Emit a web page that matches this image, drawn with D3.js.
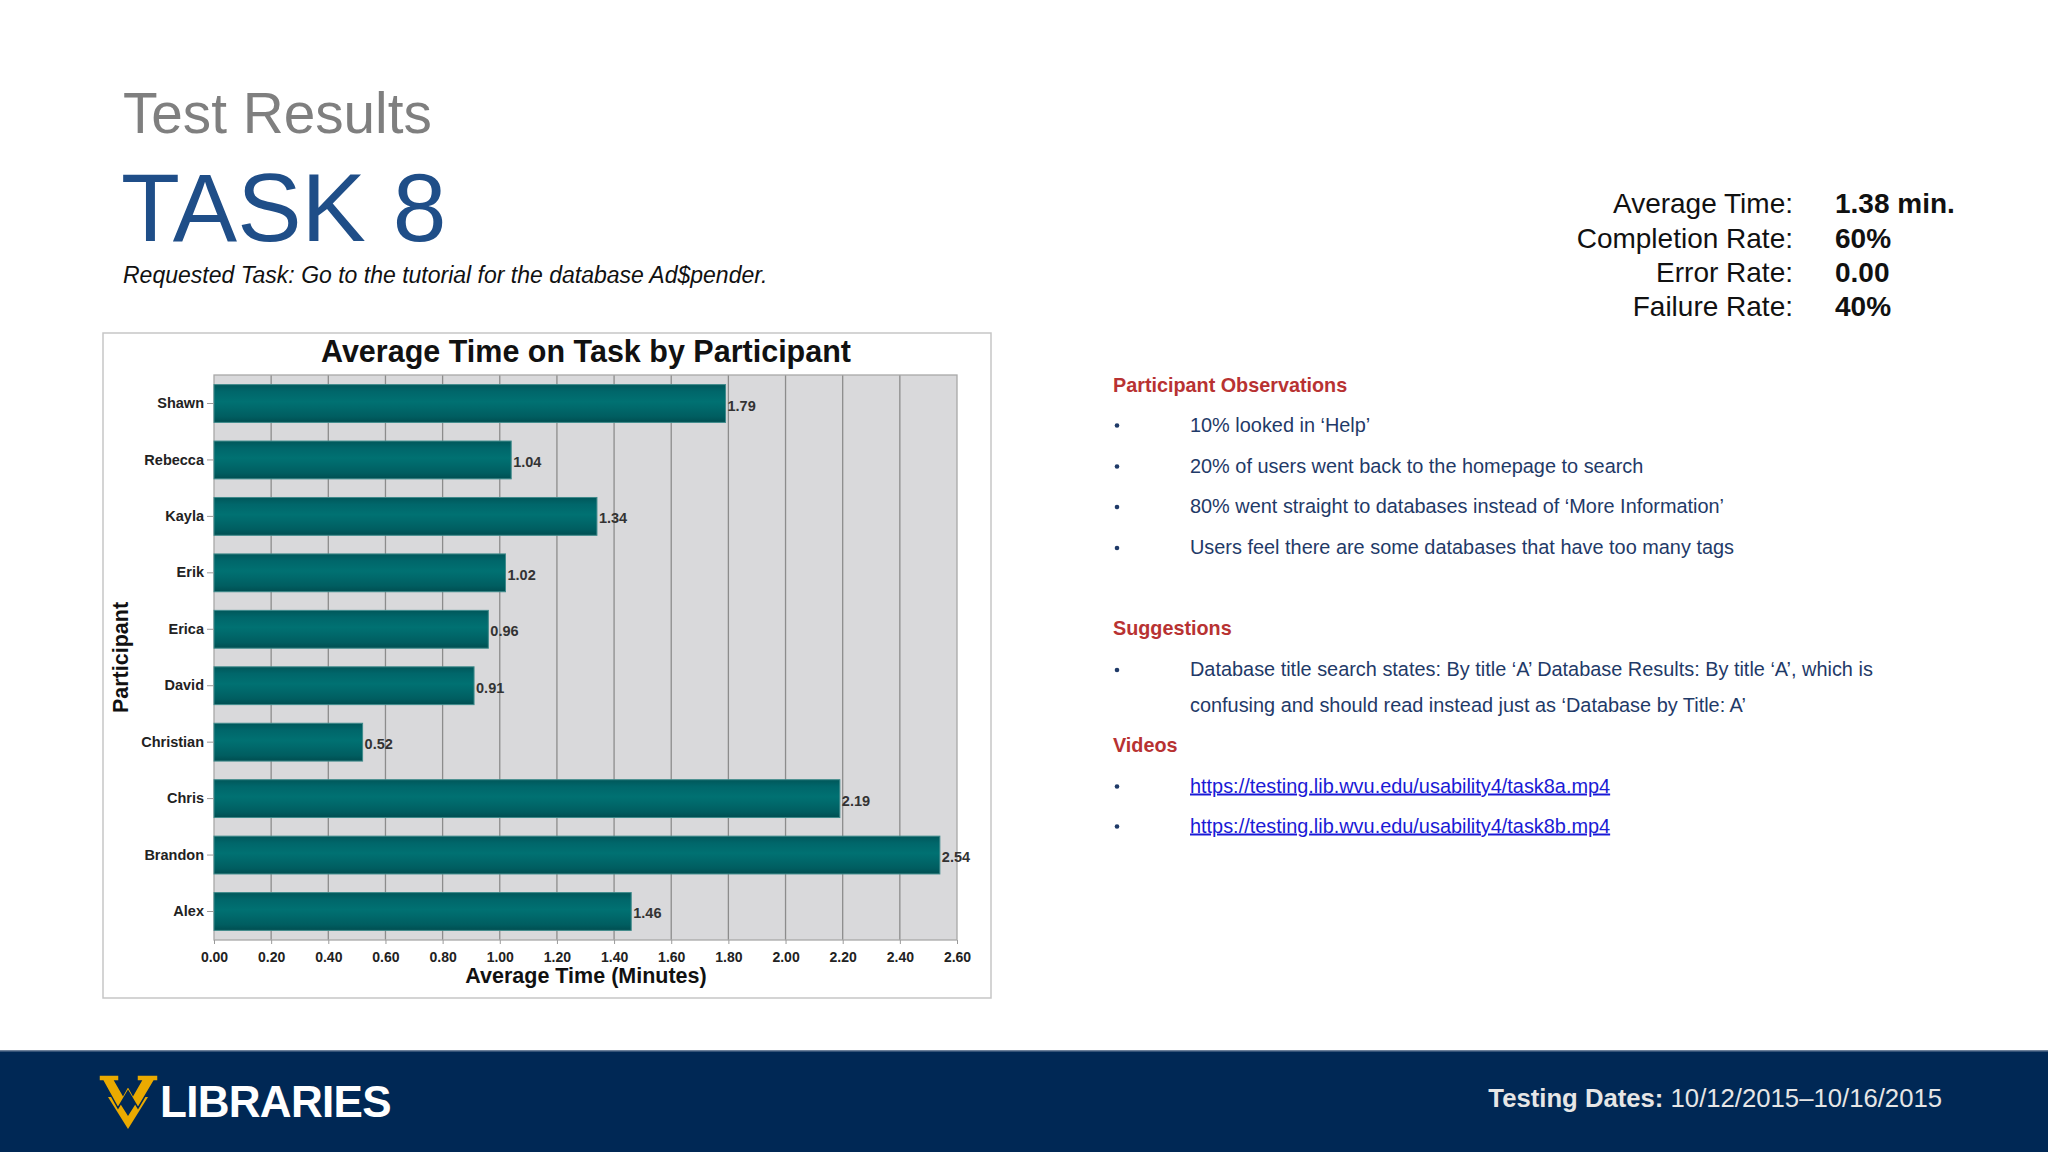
<!DOCTYPE html>
<html>
<head>
<meta charset="utf-8">
<script src="https://cdn.jsdelivr.net/npm/d3@7/dist/d3.min.js"></script>
<style>
  html, body { margin: 0; padding: 0; background: #ffffff; }
  svg { display: block; }
  text { font-family: "Liberation Sans", Arial, "DejaVu Sans", sans-serif; }
</style>
</head>
<body>
<svg id="slide" width="2048" height="1152"></svg>
<script>
// ---------------- DATA ----------------
const participants = ["Shawn", "Rebecca", "Kayla", "Erik", "Erica", "David", "Christian", "Chris", "Brandon", "Alex"];
const avgTimes = [1.79, 1.04, 1.34, 1.02, 0.96, 0.91, 0.52, 2.19, 2.54, 1.46];
const xTicks = [0, 0.2, 0.4, 0.6, 0.8, 1.0, 1.2, 1.4, 1.6, 1.8, 2.0, 2.2, 2.4, 2.6];
const xDomain = [0, 2.6];

const statLabels = ["Average Time:", "Completion Rate:", "Error Rate:", "Failure Rate:"];
const statValues = ["1.38 min.", "60%", "0.00", "40%"];

const observations = [
  "10% looked in \u2018Help\u2019",
  "20% of users went back to the homepage to search",
  "80% went straight to databases instead of \u2018More Information\u2019",
  "Users feel there are some databases that have too many tags"
];
const suggestions = [
  "Database title search states: By title \u2018A\u2019 Database Results: By title \u2018A\u2019, which is",
  "confusing and should read instead just as \u2018Database by Title: A\u2019"
];
const videos = [
  "https://testing.lib.wvu.edu/usability4/task8a.mp4",
  "https://testing.lib.wvu.edu/usability4/task8b.mp4"
];

// ---------------- SLIDE ----------------
const svg = d3.select("#slide");
svg.append("rect").attr("width", 2048).attr("height", 1152).attr("fill", "#ffffff");

// Header
svg.append("text").attr("x", 123).attr("y", 133)
  .attr("font-size", 56.7).attr("fill", "#7f7f7f").text("Test Results");
svg.append("text").attr("x", 121).attr("y", 241)
  .attr("font-size", 96.5).attr("fill", "#1f4e88").text("TASK 8");
svg.append("text").attr("x", 123).attr("y", 283)
  .attr("font-size", 23).attr("font-style", "italic").attr("fill", "#111")
  .text("Requested Task: Go to the tutorial for the database Ad$pender.");

// Stats
const statY = [213, 247.5, 281.5, 315.5];
statLabels.forEach((s, i) => {
  svg.append("text").attr("x", 1793).attr("y", statY[i]).attr("text-anchor", "end")
    .attr("font-size", 28).attr("fill", "#111").text(s);
  svg.append("text").attr("x", 1835).attr("y", statY[i])
    .attr("font-size", 28).attr("font-weight", "bold").attr("fill", "#111").text(statValues[i]);
});

// Right column
const red = "#b83232", navyText = "#1f3a68", linkBlue = "#1a1ad6";
function heading(t, y) {
  svg.append("text").attr("x", 1113).attr("y", y).attr("font-size", 19.8)
    .attr("font-weight", "bold").attr("fill", red).text(t);
}
function bullet(t, y, opts = {}) {
  if (!opts.noBullet) {
    svg.append("circle").attr("cx", 1117).attr("cy", y - 6).attr("r", 2.3).attr("fill", navyText);
  }
  const tx = svg.append("text").attr("x", 1190).attr("y", y).attr("font-size", 19.9)
    .attr("fill", opts.link ? linkBlue : navyText).text(t);
  if (opts.link) tx.attr("text-decoration", "underline");
}
heading("Participant Observations", 391.5);
const obsY = [431.5, 472.5, 513, 554];
observations.forEach((t, i) => bullet(t, obsY[i]));
heading("Suggestions", 635);
bullet(suggestions[0], 676);
bullet(suggestions[1], 711.5, { noBullet: true });
heading("Videos", 751.5);
const vidY = [792.5, 832.5];
videos.forEach((t, i) => bullet(t, vidY[i], { link: true }));

// Footer
svg.append("rect").attr("x", 0).attr("y", 1051).attr("width", 2048).attr("height", 101).attr("fill", "#002855");
svg.append("rect").attr("x", 0).attr("y", 1050).attr("width", 2048).attr("height", 1.5).attr("fill", "#6b7f99");
const gold = "#eaaa00";
svg.append("path").attr("fill", gold)
  .attr("d", "M108,1097 L116,1097 L128,1116 L140,1097 L148,1097 L128,1129 Z");
svg.append("path").attr("fill", gold).attr("stroke", "#002855").attr("stroke-width", 1.5)
  .attr("d", "M99,1075 L119,1075 L119,1081 L115,1081 L123,1095 L128,1086 L133,1095 L141,1081 L137,1081 L137,1075 L158,1075 L158,1081 L154,1081 L138,1108 L128,1091 L118,1108 L103,1081 L99,1081 Z");
svg.append("text").attr("x", 160).attr("y", 1117).attr("font-size", 44)
  .attr("font-weight", "bold").attr("fill", "#ffffff").attr("letter-spacing", -0.7).text("LIBRARIES");
const td = svg.append("text").attr("x", 1942).attr("y", 1107).attr("text-anchor", "end")
  .attr("font-size", 25.7).attr("fill", "#e6e6e6");
td.append("tspan").attr("font-weight", "bold").text("Testing Dates:");
td.append("tspan").text(" 10/12/2015\u201310/16/2015");

// ---------------- CHART ----------------
const box = { x: 103, y: 333, w: 888, h: 665 };
svg.append("rect").attr("x", box.x).attr("y", box.y).attr("width", box.w).attr("height", box.h)
  .attr("fill", "#ffffff").attr("stroke", "#c6c6c6").attr("stroke-width", 1.5);

const plot = { left: 214, right: 957, top: 375, bottom: 940 };

const defs = svg.append("defs");
const grad = defs.append("linearGradient").attr("id", "barGrad")
  .attr("x1", 0).attr("y1", 0).attr("x2", 0).attr("y2", 1);
[["0%", "#00575a"], ["18%", "#00666a"], ["45%", "#007172"], ["60%", "#006a6c"], ["85%", "#005d60"], ["100%", "#004e51"]]
  .forEach(([o, c]) => grad.append("stop").attr("offset", o).attr("stop-color", c));

const x = d3.scaleLinear().domain(xDomain).range([plot.left, plot.right]);
const y = d3.scaleBand().domain(participants).range([plot.top, plot.bottom])
  .paddingInner(0.33).paddingOuter(0.17);

const g = svg.append("g");
g.append("rect").attr("x", plot.left).attr("y", plot.top)
  .attr("width", plot.right - plot.left).attr("height", plot.bottom - plot.top)
  .attr("fill", "#d9d9db");

// vertical gridlines
g.append("g").selectAll("line").data(xTicks.slice(1, -1)).join("line")
  .attr("x1", d => x(d)).attr("x2", d => x(d))
  .attr("y1", plot.top).attr("y2", plot.bottom)
  .attr("stroke", "#8c8c8c").attr("stroke-width", 1.3);

g.append("rect").attr("x", plot.left).attr("y", plot.top)
  .attr("width", plot.right - plot.left).attr("height", plot.bottom - plot.top)
  .attr("fill", "none").attr("stroke", "#a8a8a8").attr("stroke-width", 1.3);

// bars
const data = participants.map((p, i) => ({ p, v: avgTimes[i] }));
g.append("g").selectAll("rect").data(data).join("rect")
  .attr("x", x(0)).attr("y", d => y(d.p))
  .attr("width", d => x(d.v) - x(0)).attr("height", y.bandwidth())
  .attr("fill", "url(#barGrad)").attr("stroke", "#3f8a8b").attr("stroke-width", 1);

// value labels
g.append("g").selectAll("text").data(data).join("text")
  .attr("x", d => x(d.v) + 2).attr("y", d => y(d.p) + y.bandwidth() / 2 + 7)
  .attr("font-size", 14.5).attr("font-weight", "bold").attr("fill", "#333")
  .text(d => d.v.toFixed(2));

// y axis
const yAxis = d3.axisLeft(y).tickSize(7).tickPadding(3);
const ya = g.append("g").attr("transform", `translate(${plot.left},0)`).call(yAxis);
ya.select(".domain").remove();
ya.selectAll("line").attr("stroke", "#9a9a9a");
ya.selectAll("text").attr("font-size", 14.5).attr("font-weight", "bold").attr("fill", "#222")
  .attr("font-family", "Liberation Sans, Arial, sans-serif");

// x axis
const xAxis = d3.axisBottom(x).tickValues(xTicks).tickFormat(d3.format(".2f")).tickSize(4).tickPadding(8);
const xa = g.append("g").attr("transform", `translate(0,${plot.bottom})`).call(xAxis);
xa.select(".domain").remove();
xa.selectAll("line").attr("stroke", "#9a9a9a");
xa.selectAll("text").attr("font-size", 14).attr("font-weight", "bold").attr("fill", "#222")
  .attr("font-family", "Liberation Sans, Arial, sans-serif");

// titles
svg.append("text").attr("x", 586).attr("y", 362).attr("text-anchor", "middle")
  .attr("font-size", 30.5).attr("font-weight", "bold").attr("fill", "#111")
  .text("Average Time on Task by Participant");
svg.append("text").attr("x", 586).attr("y", 983).attr("text-anchor", "middle")
  .attr("font-size", 21.5).attr("font-weight", "bold").attr("fill", "#111")
  .text("Average Time (Minutes)");
svg.append("text").attr("transform", `translate(128,${(plot.top + plot.bottom) / 2}) rotate(-90)`)
  .attr("text-anchor", "middle").attr("font-size", 21.5).attr("font-weight", "bold").attr("fill", "#111")
  .text("Participant");
</script>
</body>
</html>
